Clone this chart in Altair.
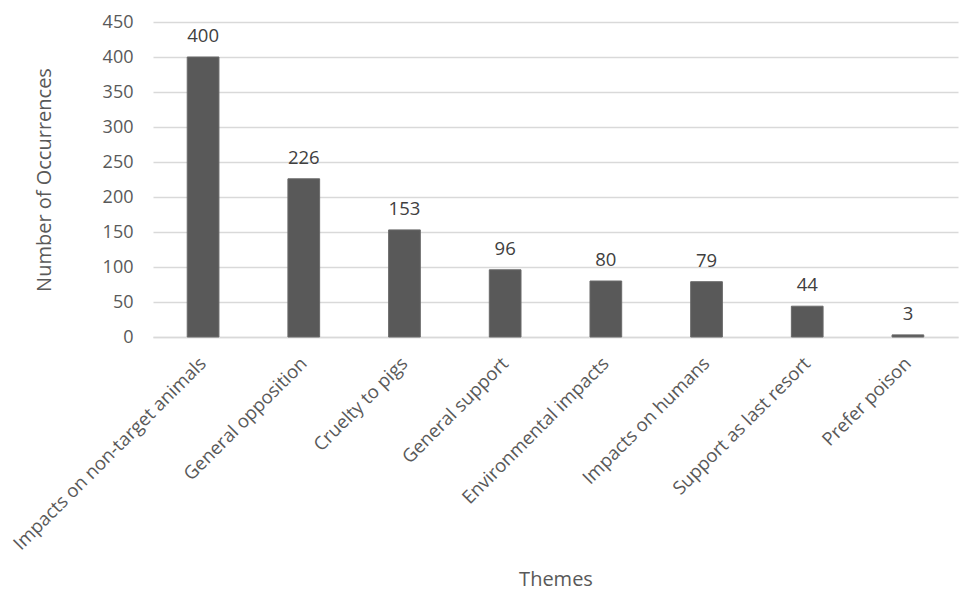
import altair as alt
import pandas as pd

themes = [
    "Impacts on non-target animals",
    "General opposition",
    "Cruelty to pigs",
    "General support",
    "Environmental impacts",
    "Impacts on humans",
    "Support as last resort",
    "Prefer poison",
]
counts = [400, 226, 153, 96, 80, 79, 44, 3]
y_ticks = [0, 50, 100, 150, 200, 250, 300, 350, 400, 450]

df = pd.DataFrame({"theme": themes, "count": counts})

FONT = "Open Sans"

x = alt.X(
    "theme:N",
    sort=themes,
    title="Themes",
    scale=alt.Scale(paddingInner=0.685, paddingOuter=0.34),
    axis=alt.Axis(
        labelAngle=-45,
        labelAlign="right",
        labelBaseline="middle",
        labelPadding=23,
        labelFontSize=18.5,
        labelColor="#595959",
        labelFont=FONT,
        ticks=False,
        domainColor="#d9d9d9",
        domainWidth=1.5,
        titleFontSize=20,
        titleFont=FONT,
        titleColor="#595959",
        titleFontWeight="normal",
        titlePadding=32,
        labelLimit=400,
        labelOverlap=False,
    ),
)

y = alt.Y(
    "count:Q",
    title="Number of Occurrences",
    scale=alt.Scale(domain=[0, 450], nice=False),
    axis=alt.Axis(
        values=y_ticks,
        labelOverlap=False,
        labelFontSize=18,
        labelColor="#595959",
        labelFont=FONT,
        labelPadding=20,
        ticks=False,
        domain=False,
        gridColor="#d9d9d9",
        gridWidth=1.5,
        titleFontSize=20,
        titleFont=FONT,
        titleColor="#595959",
        titleFontWeight="normal",
        titlePadding=48,
    ),
)

base = alt.Chart(df).encode(x=x, y=y)

bars = base.mark_bar(color="#595959", stroke="#6a6a6a", strokeWidth=1)

text = base.mark_text(
    baseline="bottom", dy=-11, fontSize=18.5, font=FONT, color="#404040"
).encode(text="count:Q")

chart = (
    alt.layer(bars, text)
    .properties(
        width=805,
        height=315,
        autosize=alt.AutoSizeParams(type="none"),
        padding={"left": 153, "top": 22, "right": 2, "bottom": 257},
        background="white",
    )
    .configure_view(stroke=None)
)

chart.save("out.html", embed_options={"renderer": "svg", "actions": False})
